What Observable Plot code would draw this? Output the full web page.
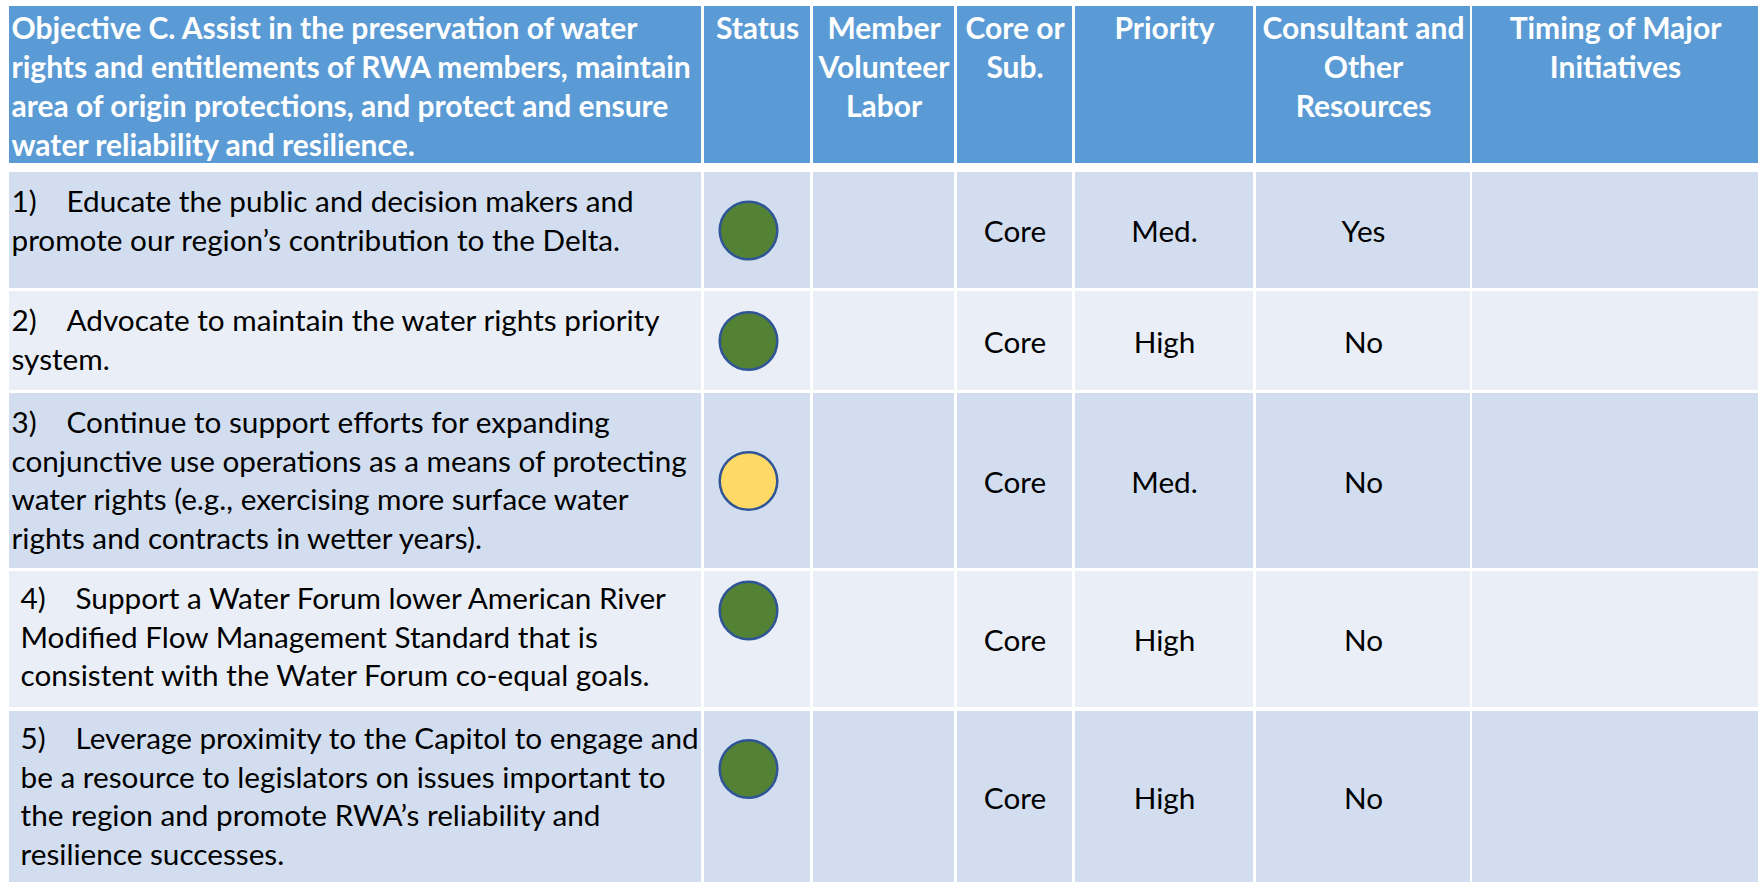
<!DOCTYPE html>
<html>
<head>
<meta charset="utf-8">
<script src="https://cdn.jsdelivr.net/npm/d3@7"></script>
<script src="https://cdn.jsdelivr.net/npm/@observablehq/plot@0.6"></script>
<style>
  html, body { margin: 0; padding: 0; background: #ffffff; }
  #chart svg { display: block; }
</style>
</head>
<body>
<div id="chart"></div>
<script>
// ---------------- DATA ----------------
const headers = [
  "Objective C. Assist in the preservation of water\nrights and entitlements of RWA members, maintain\narea of origin protections, and protect and ensure\nwater reliability and resilience.",
  "Status",
  "Member\nVolunteer\nLabor",
  "Core or\nSub.",
  "Priority",
  "Consultant and\nOther\nResources",
  "Timing of Major\nInitiatives"
];
const itemNumbers = ["1)", "2)", "3)", "4)", "5)"];
const itemTexts = [
  "Educate the public and decision makers and\npromote our region’s contribution to the Delta.",
  "Advocate to maintain the water rights priority\nsystem.",
  "Continue to support efforts for expanding\nconjunctive use operations as a means of protecting\nwater rights (e.g., exercising more surface water\nrights and contracts in wetter years).",
  "Support a Water Forum lower American River\nModified Flow Management Standard that is\nconsistent with the Water Forum co-equal goals.",
  "Leverage proximity to the Capitol to engage and\nbe a resource to legislators on issues important to\nthe region and promote RWA’s reliability and\nresilience successes."
];
const statusValues = ["green", "green", "yellow", "green", "green"];
const memberLabor = ["", "", "", "", ""];
const coreOrSub = ["Core", "Core", "Core", "Core", "Core"];
const priority = ["Med.", "High", "Med.", "High", "High"];
const consultant = ["Yes", "No", "No", "No", "No"];
const timing = ["", "", "", "", ""];

// ---------------- LAYOUT (pixels) ----------------
const W = 1759, H = 882;
const colEdges = [[9, 701], [704, 810], [813, 954], [957, 1072], [1075, 1253], [1256, 1470], [1472, 1758]];
const headerBand = [6, 163];
const rowBands = [[172, 288], [291, 390], [393, 568], [571, 707], [711, 882]];
const itemIndent = [11, 11, 11, 20, 20];
const itemFirstBaseline = [39.5, 39.5, 39.5, 37.5, 37.5];
const tabWidth = 55;
const bodyLineHeight = 38.5;
const headLineHeight = 39;
const headFirstBaseline = 32;
const statusNudge = [0, 0, 0, -29, -28];
const statusX = 748;
const fontFamily = "Lato, 'Open Sans', sans-serif";

function fitSize(text, target, weight) {
  const ctx = document.createElement("canvas").getContext("2d");
  ctx.font = `${weight} 100px Lato`;
  return 100 * target / ctx.measureText(text).width;
}
const bodySize = fitSize("conjunctive use operations as a means of protecting", 676, "normal");
const headSize = fitSize("rights and entitlements of RWA members, maintain", 681, "bold");

const colCenter = c => (colEdges[c][0] + colEdges[c][1]) / 2;
const rowCenter = r => (rowBands[r][0] + rowBands[r][1]) / 2;

// ---------------- DERIVED TABLES ----------------
const headerCells = headers.map((h, c) => ({c}));
const bodyCells = rowBands.flatMap((_, r) => colEdges.map((_, c) => ({r, c})));
const headerLines = headers.flatMap((h, c) => h.split("\n").map((line, i) => ({c, line, i})));
const itemLines = itemTexts.flatMap((t, r) => t.split("\n").map((line, i) => ({r, line, i})));
const valueCols = [[2, memberLabor], [3, coreOrSub], [4, priority], [5, consultant], [6, timing]];
const valueCells = valueCols.flatMap(([c, arr]) => arr.map((v, r) => ({r, c, v}))).filter(d => d.v !== "");
const statuses = statusValues.map((s, r) => ({r, s}));

const chart = Plot.plot({
  width: W,
  height: H,
  margin: 0,
  x: {domain: [0, W], range: [0, W], axis: null},
  y: {domain: [0, H], range: [0, H], axis: null},
  color: {type: "ordinal", domain: ["green", "yellow"], range: ["#548235", "#FFD966"]},
  style: {background: "#ffffff"},
  marks: [
    Plot.rect(headerCells, {
      x1: d => colEdges[d.c][0], x2: d => colEdges[d.c][1],
      y1: headerBand[0], y2: headerBand[1],
      fill: "#5B9BD5"
    }),
    Plot.rect(bodyCells, {
      x1: d => colEdges[d.c][0], x2: d => colEdges[d.c][1],
      y1: d => rowBands[d.r][0], y2: d => rowBands[d.r][1],
      fill: d => (d.r % 2 === 0 ? "#D2DEEF" : "#EAEFF7")
    }),
    Plot.text(headerLines.filter(d => d.c === 0), {
      x: colEdges[0][0] + 2,
      y: d => headerBand[0] + headFirstBaseline + d.i * headLineHeight,
      text: "line", textAnchor: "start", lineAnchor: "bottom",
      fill: "#ffffff", fontWeight: "bold", fontSize: headSize, fontFamily
    }),
    Plot.text(headerLines.filter(d => d.c > 0), {
      x: d => colCenter(d.c),
      y: d => headerBand[0] + headFirstBaseline + d.i * headLineHeight,
      text: "line", textAnchor: "middle", lineAnchor: "bottom",
      fill: "#ffffff", fontWeight: "bold", fontSize: headSize, fontFamily
    }),
    Plot.text(itemNumbers.map((n, r) => ({r, n})), {
      x: d => itemIndent[d.r],
      y: d => rowBands[d.r][0] + itemFirstBaseline[d.r],
      text: "n", textAnchor: "start", lineAnchor: "bottom",
      fill: "#000000", fontSize: bodySize, fontFamily
    }),
    Plot.text(itemLines, {
      x: d => itemIndent[d.r] + (d.i === 0 ? tabWidth : 0),
      y: d => rowBands[d.r][0] + itemFirstBaseline[d.r] + d.i * bodyLineHeight,
      text: "line", textAnchor: "start", lineAnchor: "bottom",
      fill: "#000000", fontSize: bodySize, fontFamily
    }),
    Plot.text(valueCells, {
      x: d => colCenter(d.c),
      y: d => rowCenter(d.r) + 11.5,
      text: "v", textAnchor: "middle", lineAnchor: "bottom",
      fill: "#000000", fontSize: bodySize, fontFamily
    }),
    Plot.dot(statuses, {
      x: statusX,
      y: d => rowCenter(d.r) + statusNudge[d.r],
      r: 28.8,
      fill: {value: "s", scale: "color"},
      stroke: "#2F5597",
      strokeWidth: 2.5
    })
  ]
});
document.getElementById("chart").appendChild(chart);
</script>
</body>
</html>
